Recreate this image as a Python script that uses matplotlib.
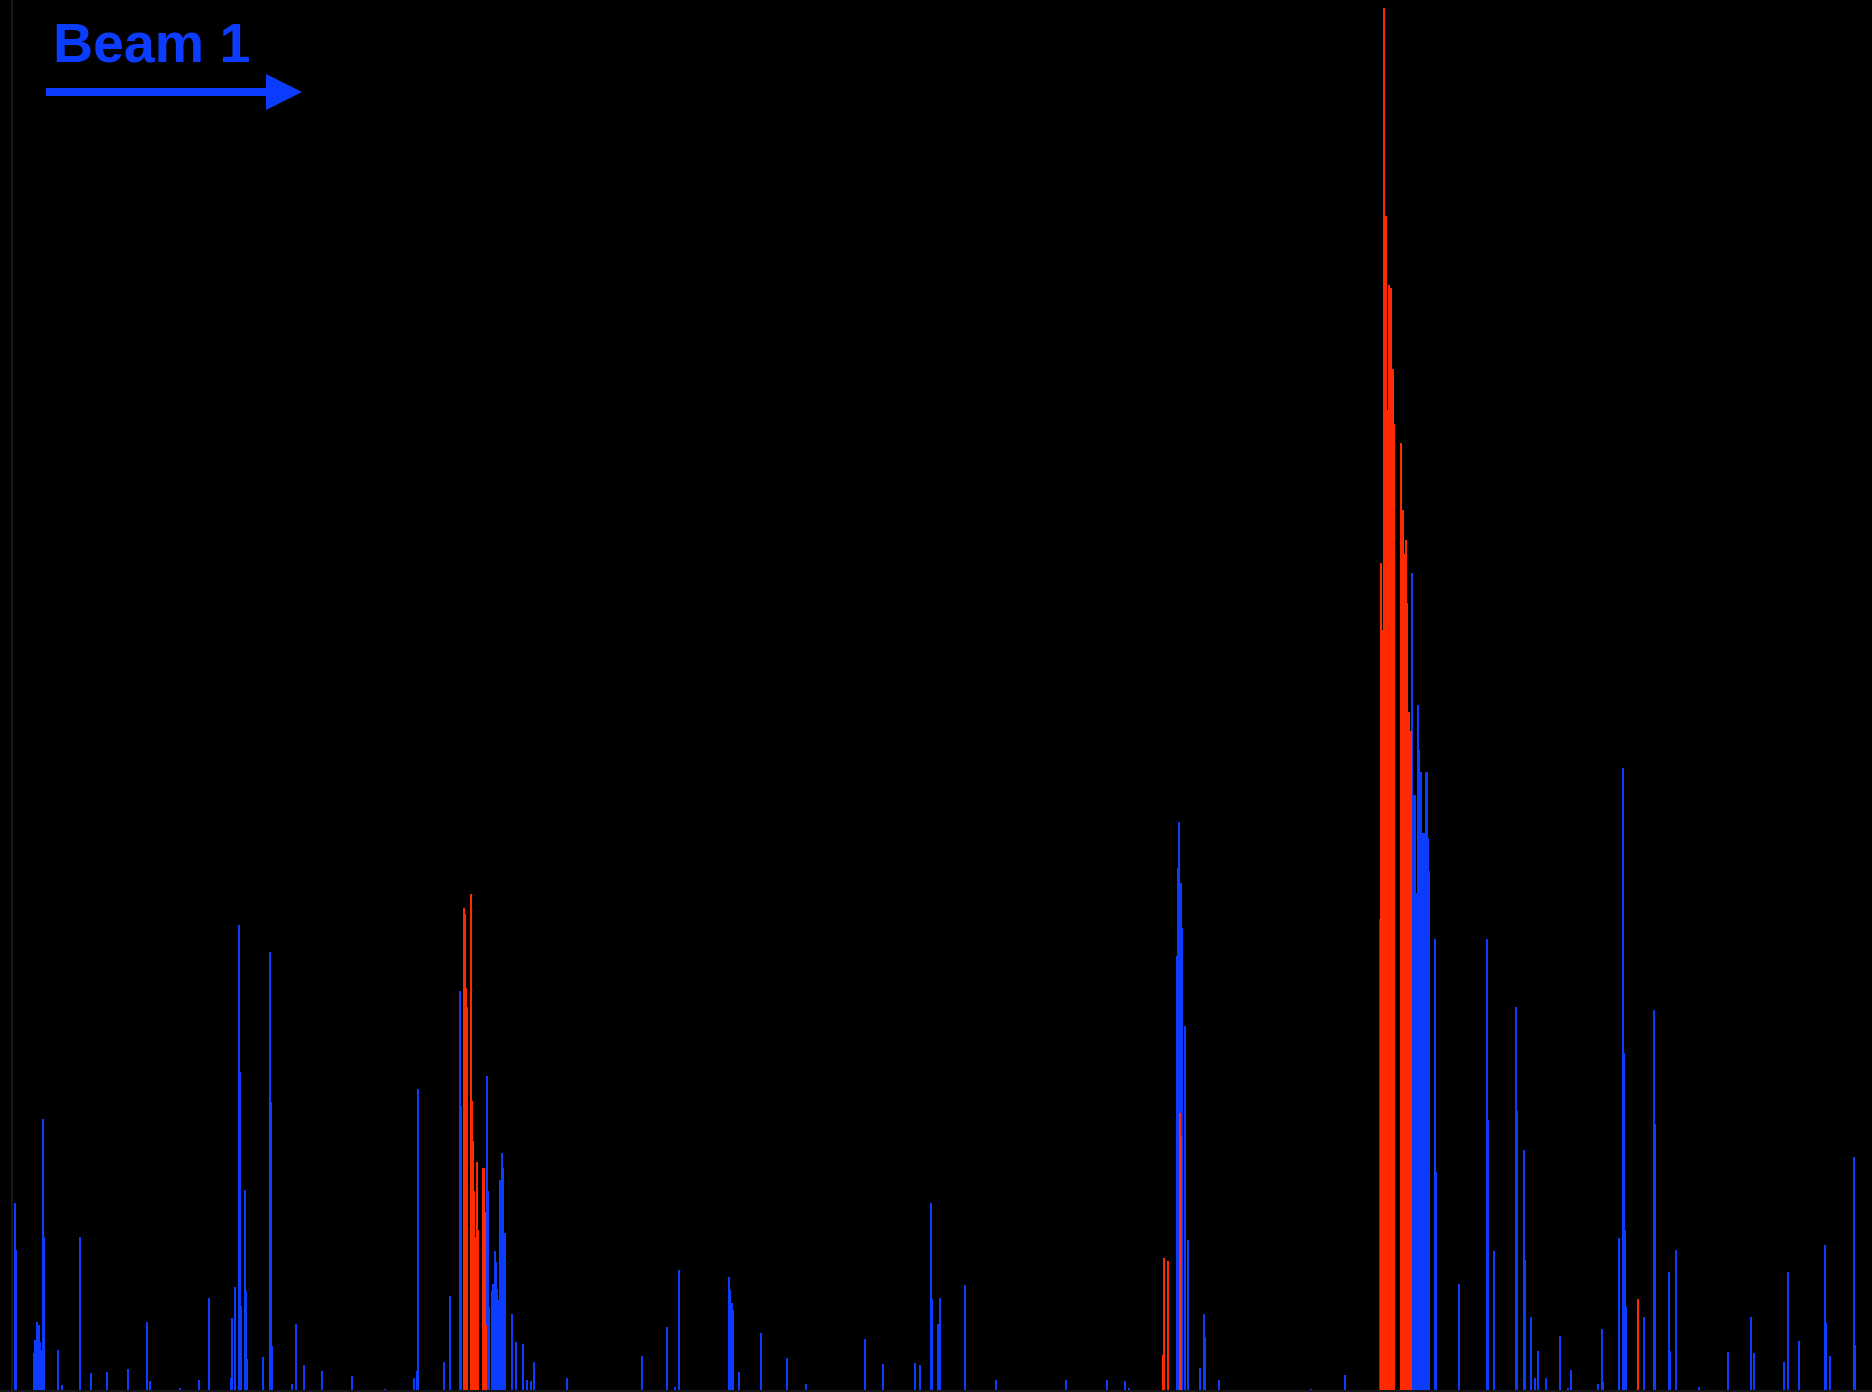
import matplotlib
matplotlib.use("Agg")
import matplotlib.pyplot as plt
from matplotlib.patches import FancyArrow

# ---- data (position along ring, signal amplitude) ----
blue_pos = [15, 16, 34, 35, 36, 37, 38, 39, 40, 41, 43, 44, 58, 62, 80, 91, 107, 128, 147, 150,
            180, 199, 209, 231, 232, 235, 239, 240, 241, 245, 246, 247, 263, 270, 271, 272, 292,
            296, 304, 322, 352, 385,
            414, 417, 418, 444, 450, 460, 461, 486, 487, 488, 489, 492, 493, 495, 496, 497, 499,
            500, 502, 503, 505, 512, 516, 523, 527, 531, 534, 567,
            642, 667, 675, 679, 729, 730, 732, 733, 739, 761, 787, 806, 865, 883, 915, 920, 931,
            932, 938, 940, 965, 996, 1066, 1107, 1125, 1129,
            1177, 1178, 1179, 1181, 1182, 1185, 1188, 1200, 1204, 1205, 1219, 1311, 1345,
            1380, 1412, 1413, 1414, 1415, 1416, 1417, 1418, 1419, 1420, 1421, 1422, 1423, 1424,
            1425, 1426, 1427, 1428, 1429, 1435, 1436,
            1459, 1487, 1488, 1494, 1516, 1517, 1524, 1525, 1531, 1535, 1538, 1546, 1560, 1568,
            1571, 1598, 1602, 1603, 1619, 1623, 1624, 1625, 1626, 1644, 1654, 1655, 1669, 1670,
            1676, 1699, 1728, 1751, 1754, 1784, 1788, 1799, 1825, 1826, 1830, 1854, 1855]
blue_val = [187, 140, 37, 50, 45, 68, 55, 65, 48, 40, 271, 153, 40, 5, 153, 17, 18, 21, 68, 9,
            2, 10, 92, 12, 72, 103, 465, 318, 84, 200, 99, 31, 33, 438, 288, 44, 6,
            66, 25, 19, 14, 1,
            12, 19, 301, 28, 94, 399, 284, 96, 314, 199, 83, 99, 106, 139, 128, 101, 90,
            210, 237, 222, 157, 76, 48, 46, 10, 9, 28, 12,
            34, 63, 3, 120, 113, 100, 87, 80, 18, 57, 32, 6, 51, 26, 27, 25, 187,
            91, 66, 92, 105, 10, 10, 10, 9, 2,
            434, 522, 568, 507, 462, 364, 150, 22, 76, 53, 10, 1, 15,
            471, 817, 595, 595, 595, 497, 497, 685, 640, 618, 618, 517, 557, 557,
            557, 618, 618, 552, 519, 451, 218,
            106, 451, 270, 139, 383, 279, 240, 130, 73, 12, 39, 12, 54, 2,
            20, 6, 61, 8, 152, 622, 337, 160, 83, 73, 380, 266, 118, 39,
            140, 3, 38, 73, 37, 28, 118, 49, 145, 67, 34, 233, 45]

red_pos = [464, 465, 466, 467, 471, 472, 473, 474, 476, 477, 478, 483, 484, 485, 486,
           1163, 1164, 1168, 1180, 1181,
           1381, 1382, 1383, 1384, 1385, 1386, 1387, 1388, 1389, 1390, 1391, 1392, 1393, 1394,
           1401, 1402, 1403, 1404, 1405, 1406, 1407, 1408, 1409, 1410, 1411,
           1638]
red_val = [482, 476, 402, 383, 496, 289, 249, 199, 153, 228, 160, 222, 222, 178, 65,
           35, 132, 129, 277, 253,
           827, 690, 760, 1382, 1000, 1174, 900, 980, 1105, 1050, 1102, 950, 1021, 966,
           947, 850, 880, 836, 800, 850, 787, 640, 678, 545, 659,
           91]

BLUE = "#0b3cff"
RED = "#ff2a00"

fig = plt.figure(figsize=(18.72, 13.92), dpi=100, facecolor="black")
ax = fig.add_axes([0, 0, 1, 1], facecolor="black")
ax.set_xlim(0, 1872)
ax.set_ylim(-2, 1390)
ax.axis("off")

ax.bar(blue_pos, blue_val, width=2.3, color=BLUE, linewidth=0, align="center")
ax.bar(red_pos, red_val, width=2.3, color=RED, linewidth=0, align="center")

# faint axes lines
ax.axvline(12, color="#1c1c1c", linewidth=1.2)
ax.axhline(-0.5, color="#1c1c1c", linewidth=1.2)

# Beam label and direction arrow
ax.text(53, 1328, "Beam 1", color=BLUE, fontsize=40, fontweight="bold",
        family=["Liberation Sans", "DejaVu Sans"], va="baseline", ha="left")
ax.add_patch(FancyArrow(46, 1298, 256, 0, width=8, head_width=36, head_length=36,
                        length_includes_head=True, color=BLUE, linewidth=0))

fig.savefig("out.png", dpi=100, facecolor="black")
